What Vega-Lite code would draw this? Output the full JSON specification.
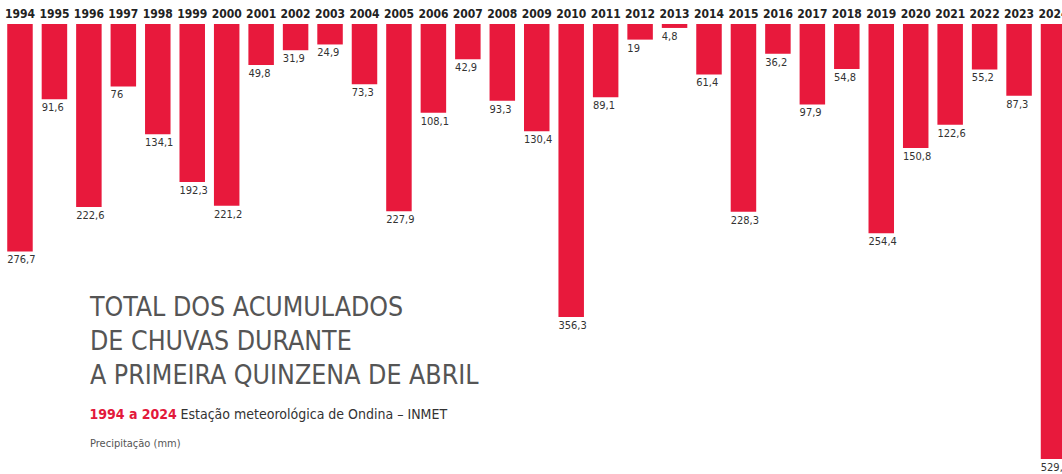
{
  "$schema": "https://vega.github.io/schema/vega-lite/v6.json",
  "width": 1062,
  "height": 450,
  "autosize": {"type": "none"},
  "padding": {"left": 0, "top": 24, "right": 0, "bottom": 0},
  "background": "white",
  "title": {
    "text": ["TOTAL DOS ACUMULADOS", "DE CHUVAS DURANTE", "A PRIMEIRA QUINZENA DE ABRIL"],
    "subtitle": "Precipitação (mm)",
    "orient": "top",
    "anchor": "start",
    "frame": "group",
    "offset": 0,
    "dx": 90,
    "dy": 442,
    "font": "DejaVu Sans Condensed, sans-serif",
    "fontSize": 26.5,
    "fontWeight": "normal",
    "lineHeight": 34.3,
    "color": "#555555",
    "subtitleFont": "DejaVu Sans Condensed, sans-serif",
    "subtitleFontSize": 11,
    "subtitleColor": "#555555",
    "subtitlePadding": 48
  },
  "data": {
    "values": [
      {"year": "1994", "mm": 276.7},
      {"year": "1995", "mm": 91.6},
      {"year": "1996", "mm": 222.6},
      {"year": "1997", "mm": 76},
      {"year": "1998", "mm": 134.1},
      {"year": "1999", "mm": 192.3},
      {"year": "2000", "mm": 221.2},
      {"year": "2001", "mm": 49.8},
      {"year": "2002", "mm": 31.9},
      {"year": "2003", "mm": 24.9},
      {"year": "2004", "mm": 73.3},
      {"year": "2005", "mm": 227.9},
      {"year": "2006", "mm": 108.1},
      {"year": "2007", "mm": 42.9},
      {"year": "2008", "mm": 93.3},
      {"year": "2009", "mm": 130.4},
      {"year": "2010", "mm": 356.3},
      {"year": "2011", "mm": 89.1},
      {"year": "2012", "mm": 19},
      {"year": "2013", "mm": 4.8},
      {"year": "2014", "mm": 61.4},
      {"year": "2015", "mm": 228.3},
      {"year": "2016", "mm": 36.2},
      {"year": "2017", "mm": 97.9},
      {"year": "2018", "mm": 54.8},
      {"year": "2019", "mm": 254.4},
      {"year": "2020", "mm": 150.8},
      {"year": "2021", "mm": 122.6},
      {"year": "2022", "mm": 55.2},
      {"year": "2023", "mm": 87.3},
      {"year": "2024", "mm": 529.2}
    ]
  },
  "encoding": {
    "x": {
      "field": "year",
      "type": "ordinal",
      "sort": null,
      "scale": {"range": [0, 1073.5], "paddingInner": 0.26, "paddingOuter": 0.21},
      "axis": {
        "orient": "top",
        "domain": false,
        "ticks": false,
        "grid": false,
        "labelAngle": 0,
        "labelPadding": 4,
        "labelFont": "DejaVu Sans Condensed, sans-serif",
        "labelFontWeight": "bold",
        "labelFontSize": 12,
        "labelColor": "#222222",
        "title": "1994 a 2024",
        "titleFont": "DejaVu Sans Condensed, sans-serif",
        "titleFontWeight": "bold",
        "titleFontSize": 14,
        "titleColor": "#E3193B",
        "titleAlign": "left",
        "titleBaseline": "alphabetic",
        "titleAngle": 0,
        "titleX": 89,
        "titleY": 394
      }
    },
    "y": {
      "field": "mm",
      "type": "quantitative",
      "scale": {"domain": [0, 547.4], "reverse": true, "nice": false},
      "axis": {
        "orient": "left",
        "domain": false,
        "ticks": false,
        "grid": false,
        "labels": false,
        "title": "Estação meteorológica de Ondina – INMET",
        "titleFont": "DejaVu Sans Condensed, sans-serif",
        "titleFontWeight": "normal",
        "titleFontSize": 14,
        "titleColor": "#333333",
        "titleAlign": "left",
        "titleBaseline": "alphabetic",
        "titleAngle": 0,
        "titleX": 180,
        "titleY": 394
      }
    }
  },
  "layer": [
    {
      "mark": {"type": "bar", "color": "#E8193C"}
    },
    {
      "mark": {"type": "text", "align": "left", "baseline": "top", "dy": 3, "fontSize": 11, "color": "#333333", "font": "DejaVu Sans Condensed, sans-serif"},
      "encoding": {
        "x": {"field": "year", "type": "ordinal", "sort": null, "bandPosition": 0},
        "text": {"field": "mm", "type": "quantitative", "format": ".1~f"}
      }
    }
  ],
  "config": {
    "view": {"stroke": null},
    "locale": {"number": {"decimal": ",", "thousands": ".", "grouping": [3], "currency": ["R$", ""]}}
  }
}
